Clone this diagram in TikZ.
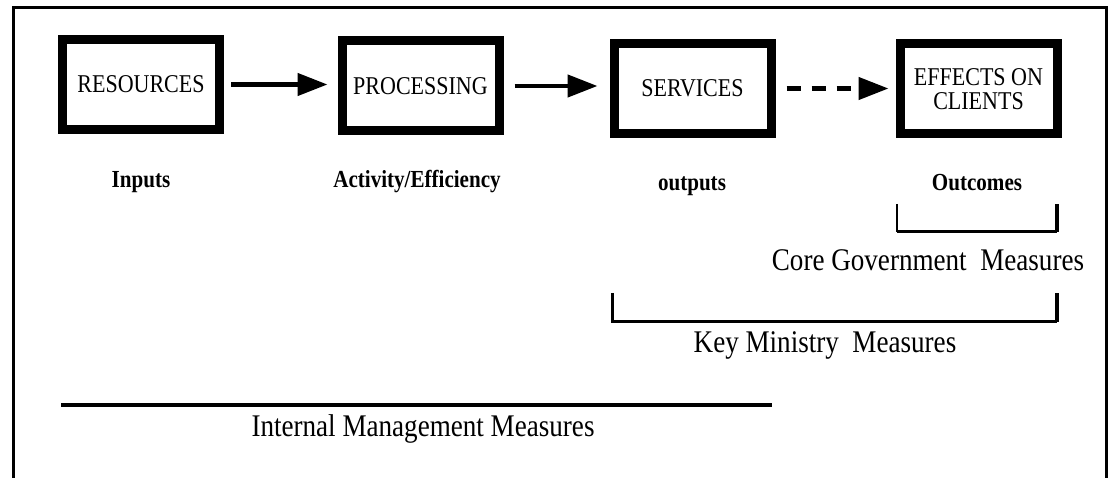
\documentclass[tikz,border=0pt]{standalone}
\usepackage{fontspec}
\usepackage{graphicx}
\setmainfont{Liberation Serif}
\usetikzlibrary{arrows.meta}
% narrow setting of the type
\newcommand\sqz[1]{\scalebox{0.86}[1]{#1}}
\begin{document}
\begin{tikzpicture}[x=1pt,y=-1pt,
  stagebox/.style={draw, line width=9pt, minimum width=157pt, minimum height=90pt,
    inner sep=0pt, align=center, font=\fontsize{25.6}{24}\selectfont},
  label/.style={inner sep=0pt, anchor=base, font=\fontsize{24.5}{26}\selectfont\bfseries},
  measure/.style={inner sep=0pt, anchor=base, font=\fontsize{31.5}{34}\selectfont},
  flow/.style={line width=4.5pt, -{Triangle[length=30pt,width=22pt]}},
  bracket/.style={line width=3pt},
  frameline/.style={line width=3pt}
]
\useasboundingbox (0,0) rectangle (1112,478);

% open frame round the figure
\coordinate (fbl) at (13,478);
\coordinate (ftl) at (13,7.5);
\coordinate (ftr) at (1106,7.5);
\coordinate (fbr) at (1106,478);
\draw[frameline] (fbl) -- (ftl) -- (ftr) -- (fbr);

% the four stages
\node[stagebox] (res)  at (141,84.5)   {\sqz{RESOURCES}};
\node[stagebox] (proc) at (420.5,86)   {\sqz{PROCESSING}};
\node[stagebox] (serv) at (692.5,88.5) {\sqz{SERVICES}};
\node[stagebox] (eff)  at (978.5,89)   {\sqz{EFFECTS ON}\\\sqz{CLIENTS}};

% arrows between stages
\draw[flow] ([xshift=7pt]res.east) -- ([xshift=-10pt]res.east -| proc.west);
\draw[flow] ([xshift=11pt]proc.east) -- ([xshift=-12pt]proc.east -| serv.west);
\draw[flow, dash pattern=on 14pt off 11pt] ([xshift=11pt]serv.east) -- ([xshift=-7pt]serv.east -| eff.west);

% stage labels
\node[label] (lin)  at (141,188)  {\sqz{Inputs}};
\node[label] (lact) at (417,188)  {\sqz{Activity/Efficiency}};
\node[label] (lout) at (692,191)  {\sqz{outputs}};
\node[label] (lres) at (977,191)  {\sqz{Outcomes}};

% core government bracket
\coordinate (cg1) at (897,204);
\coordinate (cg2) at (897,232);
\coordinate (cg3) at (1057,232);
\coordinate (cg4) at (1057,204);
\draw[line width=1.2pt] (cg1) -- (cg2);
\draw[bracket] (cg2) -- (cg3);
\draw[line width=4pt] (cg3) -- (cg4);
\node[measure] (tcg) at (928,271) {\sqz{Core Government\ \ Measures}};

% key ministry bracket
\coordinate (km1) at (612,293);
\coordinate (km2) at (612,322);
\coordinate (km3) at (1057,322);
\coordinate (km4) at (1057,293);
\draw[bracket] (km1) -- (km2) -- (km3);
\draw[line width=4pt] (km3) -- (km4);
\node[measure] (tkm) at (825,353) {\sqz{Key Ministry\ \ Measures}};

% internal management rule
\coordinate (im1) at (61,405);
\coordinate (im2) at (772,405);
\draw[line width=4pt] (im1) -- (im2);
\node[measure] (tim) at (423,437) {\sqz{Internal Management Measures}};
\end{tikzpicture}
\end{document}
